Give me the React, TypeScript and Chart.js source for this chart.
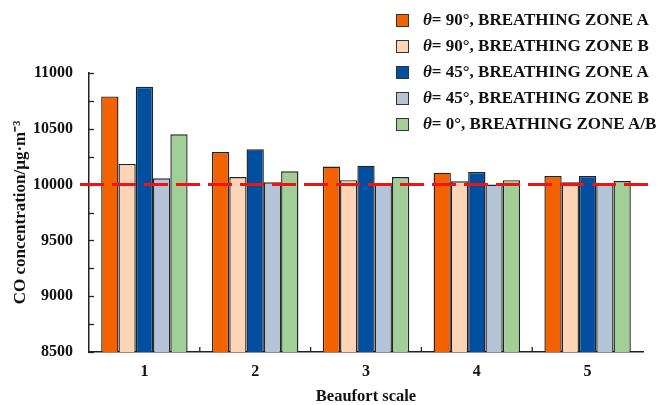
import React, { useEffect, useRef } from "react";
import { Chart, registerables } from "chart.js";

Chart.register(...registerables);

const categories = ["1", "2", "3", "4", "5"];
const seriesLabels = [
  "= 90°, BREATHING ZONE A",
  "= 90°, BREATHING ZONE B",
  "= 45°, BREATHING ZONE A",
  "= 45°, BREATHING ZONE B",
  "= 0°, BREATHING ZONE A/B",
];
const theta90A = [10790, 10292, 10162, 10107, 10077];
const theta90B = [10185, 10068, 10040, 10030, 10020];
const theta45A = [10877, 10316, 10170, 10113, 10077];
const theta45B = [10056, 10020, 10005, 10000, 10005];
const theta0AB = [10451, 10119, 10068, 10040, 10032];
const seriesValues = [theta90A, theta90B, theta45A, theta45B, theta0AB];
const seriesColors = ["#f46200", "#fdd5b6", "#004fa0", "#b4c3d5", "#a1cf97"];
const yMin = 8500;
const yMax = 11000;
const yStep = 250;
const yLabelStep = 500;
const refValue = 10000;

const FONT = "'Liberation Serif', 'Times New Roman', serif";

const customPlugin = {
  id: "custom",
  afterDatasetsDraw(chart: any) {
    const { ctx, chartArea, scales } = chart;
    const y = scales.y;
    const x = scales.x;
    ctx.save();
    ctx.strokeStyle = "#222";
    ctx.lineWidth = 1.3;
    y.ticks.forEach((t: any) => {
      const py = Math.round(y.getPixelForValue(t.value)) + 0.5;
      ctx.beginPath();
      ctx.moveTo(chartArea.left, py);
      ctx.lineTo(chartArea.left + 5, py);
      ctx.stroke();
    });
    for (let i = 1; i < categories.length; i++) {
      const px = (x.getPixelForValue(i - 1) + x.getPixelForValue(i)) / 2;
      ctx.beginPath();
      ctx.moveTo(px, chartArea.bottom);
      ctx.lineTo(px, chartArea.bottom - 5);
      ctx.stroke();
    }
    const ry = y.getPixelForValue(refValue);
    ctx.strokeStyle = "#ee1414";
    ctx.lineWidth = 3;
    ctx.setLineDash([24, 8]);
    ctx.beginPath();
    ctx.moveTo(chartArea.left - 9, ry);
    ctx.lineTo(chartArea.right + 10, ry);
    ctx.stroke();
    ctx.restore();
  },
};

export default function App() {
  const ref = useRef<HTMLCanvasElement>(null);
  useEffect(() => {
    document.body.style.margin = "0";
    const chart = new Chart(ref.current!, {
      type: "bar",
      data: {
        labels: categories,
        datasets: seriesValues.map((vals, i) => ({
          label: seriesLabels[i],
          data: vals,
          backgroundColor: seriesColors[i],
          borderColor: "#222",
          borderWidth: 1.4,
          categoryPercentage: 0.78,
          barPercentage: 1,
        })),
      },
      options: {
        responsive: false,
        animation: false,
        layout: { padding: { top: 73, right: 18, left: 0, bottom: 0 } },
        plugins: { legend: { display: false }, tooltip: { enabled: false } },
        scales: {
          x: {
            grid: { display: false, drawTicks: false, tickLength: 0 },
            border: { display: true, color: "#222", width: 1.5 },
            ticks: {
              color: "#111",
              padding: 10,
              font: { family: FONT, size: 16, weight: "bold" },
            },
            title: {
              display: true,
              text: "Beaufort scale",
              color: "#111",
              padding: { top: 0, bottom: -2 },
              font: { family: FONT, size: 16.5, weight: "bold" },
            },
            afterFit: (s: any) => {
              s.height = 53;
            },
          },
          y: {
            min: yMin,
            max: yMax,
            grid: { display: false, drawTicks: false, tickLength: 0 },
            border: { display: true, color: "#222", width: 1.5 },
            ticks: {
              stepSize: yStep,
              autoSkip: false,
              padding: 16,
              color: "#111",
              font: { family: FONT, size: 16, weight: "bold" },
              callback: (v: any) => (Number(v) % yLabelStep === 0 ? String(v) : ""),
            },
            title: {
              display: true,
              text: "CO concentration/μg·m⁻³",
              color: "#111",
              padding: { top: 10, bottom: 0 },
              font: { family: FONT, size: 17, weight: "bold" },
            },
            afterFit: (s: any) => {
              s.width = 89;
            },
          },
        },
      },
      plugins: [customPlugin],
    });
    return () => chart.destroy();
  }, []);

  return (
    <div style={{ position: "fixed", left: 0, top: 0, width: 661, height: 405 }}>
      <canvas ref={ref} width={661} height={405} />
      <div
        style={{
          position: "absolute",
          left: 396,
          top: 7,
          fontFamily: FONT,
          fontWeight: "bold",
          fontSize: 17,
          color: "#111",
        }}
      >
        {seriesLabels.map((lab, i) => (
          <div key={i} style={{ display: "flex", alignItems: "center", height: 26 }}>
            <span
              style={{
                display: "inline-block",
                width: 11,
                height: 11,
                background: seriesColors[i],
                border: "1.5px solid #333",
                marginRight: 14,
                flexShrink: 0,
              }}
            />
            <span style={{ whiteSpace: "nowrap" }}>
              <i>θ</i>
              {lab}
            </span>
          </div>
        ))}
      </div>
    </div>
  );
}
